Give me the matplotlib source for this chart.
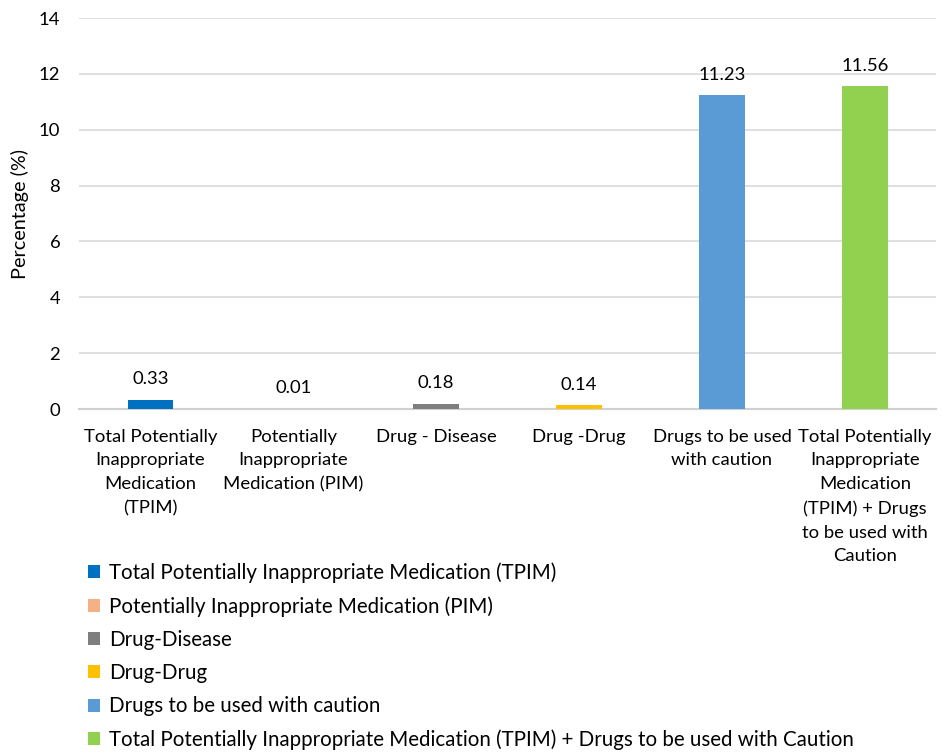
import matplotlib
matplotlib.use("Agg")
import matplotlib.pyplot as plt
from matplotlib.patches import Patch

plt.rcParams['font.family'] = ['Lato', 'DejaVu Sans']

# categories and values (%)
categories = ["Total Potentially Inappropriate Medication (TPIM)",
              "Potentially Inappropriate Medication (PIM)",
              "Drug-Disease",
              "Drug-Drug",
              "Drugs to be used with caution",
              "Total Potentially Inappropriate Medication (TPIM) + Drugs to be used with Caution"]
tick_labels = ["Total Potentially\nInappropriate\nMedication\n(TPIM)",
               "Potentially\nInappropriate\nMedication (PIM)",
               "Drug - Disease",
               "Drug -Drug",
               "Drugs to be used\nwith caution",
               "Total Potentially\nInappropriate\nMedication\n(TPIM) + Drugs\nto be used with\nCaution"]
values = [0.33, 0.01, 0.18, 0.14, 11.23, 11.56]
value_labels = ["0.33", "0.01", "0.18", "0.14", "11.23", "11.56"]
colors = ["#0070C0", "#F4B183", "#7F7F7F", "#FFC000", "#5B9BD5", "#92D050"]

fig = plt.figure(figsize=(9.41, 7.52), dpi=100)
ax = fig.add_axes([0.084, 0.456, 0.911, 0.52])

x = range(len(values))
bars = ax.bar(x, values, width=0.32, color=colors, zorder=3)
for b, lab in zip(bars, value_labels):
    ax.text(b.get_x() + b.get_width() / 2, b.get_height() + 0.45, lab,
            ha='center', va='bottom', fontsize=13.3, color='black')

ax.set_ylim(0, 14)
ax.set_xlim(-0.5, len(values) - 0.5)
ax.set_yticks(range(0, 15, 2))
ax.yaxis.grid(True, color='#D9D9D9', linewidth=1.2, zorder=0)
ax.set_axisbelow(True)
for s in ['top', 'right', 'left']:
    ax.spines[s].set_visible(False)
ax.spines['bottom'].set_color('#D0D0D0')
ax.spines['bottom'].set_linewidth(1.5)
ax.tick_params(axis='both', length=0, labelsize=13.3, colors='black')
ax.tick_params(axis='y', pad=13.5)
ax.tick_params(axis='x', pad=14)
ax.set_xticks(list(x))
ax.set_xticklabels(tick_labels, linespacing=1.6)
ax.set_ylabel("Percentage (%)", fontsize=14.3, labelpad=7)

handles = [Patch(facecolor=c, edgecolor='none') for c in colors]
fig.legend(handles, categories, loc='upper left', bbox_to_anchor=(0.093, 0.252),
           frameon=False, fontsize=14.8, handlelength=0.6, handleheight=0.6,
           handletextpad=0.45, labelspacing=0.64, borderaxespad=0, borderpad=0)

fig.savefig("out.png", dpi=100)
